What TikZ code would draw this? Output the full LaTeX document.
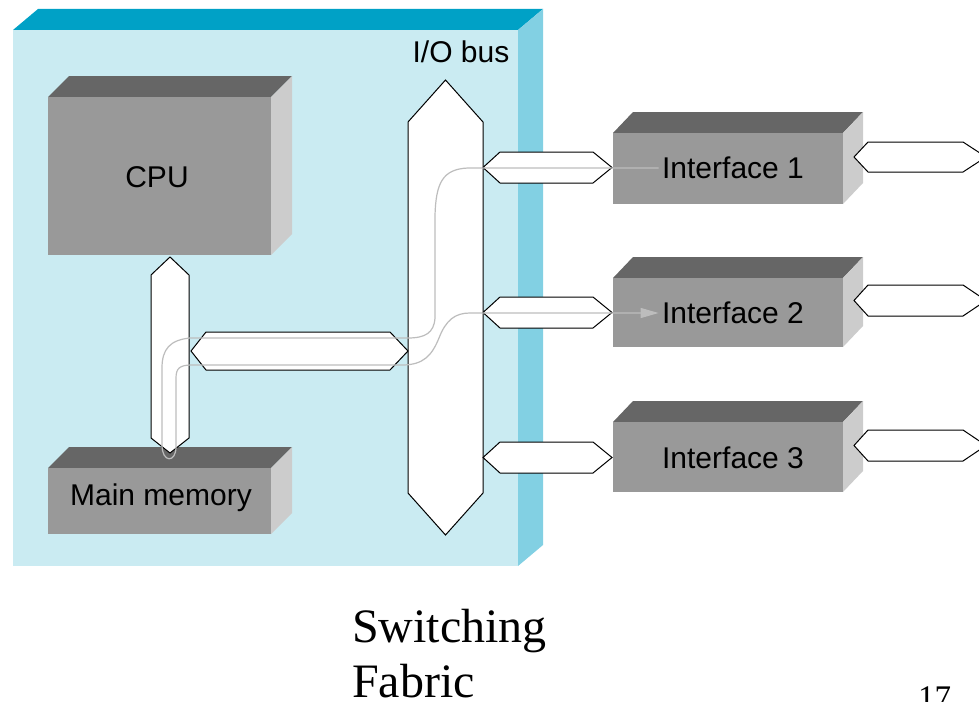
\documentclass[tikz,border=0pt]{standalone}
\usepackage{fontspec}
\setmainfont{Liberation Serif}
\newfontfamily\labelfont{Liberation Sans}
\usetikzlibrary{arrows.meta}

\definecolor{boardtop}{HTML}{00A1C6}
\definecolor{boardfront}{HTML}{CAEBF2}
\definecolor{boardside}{HTML}{82D0E3}
\definecolor{blocktop}{HTML}{666666}
\definecolor{blockfront}{HTML}{999999}
\definecolor{blockside}{HTML}{CCCCCC}
\definecolor{route}{HTML}{BDBDBD}

\tikzset{
  bus/.style={draw=black, fill=white, line width=1pt, line join=miter},
  lbl/.style={font=\labelfont\fontsize{30}{36}\selectfont, text=black},
  routeline/.style={draw=route, line width=1.2pt},
}

% extruded block: left x, front top y, right x, bottom y, depth x, depth y, top/front/side colours
\newcommand\slabbox[9]{%
  \fill[#7] (#1,#2) -- (#1+#5,#2-#6) -- (#3+#5,#2-#6) -- (#3,#2) -- cycle;
  \fill[#8] (#1,#2) rectangle (#3,#4);
  \fill[#9] (#3,#2) -- (#3+#5,#2-#6) -- (#3+#5,#4-#6) -- (#3,#4) -- cycle;
}
% vertical bus: left x, right x, top tip y, upper shoulder y, lower shoulder y, bottom tip y
\newcommand\vbus[6]{%
  \draw[bus] ({(#1+#2)/2},#3) -- (#2,#4) -- (#2,#5) -- ({(#1+#2)/2},#6) -- (#1,#5) -- (#1,#4) -- cycle;
}
% horizontal bus: left tip x, left shoulder x, right shoulder x, right tip x, top y, bottom y
\newcommand\hbus[6]{%
  \draw[bus] (#1,{(#5+#6)/2}) -- (#2,#5) -- (#3,#5) -- (#4,{(#5+#6)/2}) -- (#3,#6) -- (#2,#6) -- cycle;
}

\begin{document}
\begin{tikzpicture}[x=1pt,y=-1pt]
\useasboundingbox (0,0) rectangle (979,701);

% switching fabric board
\slabbox{13}{30}{518}{566}{25}{21}{boardtop}{boardfront}{boardside}

% CPU and main memory
\slabbox{48}{97}{271}{255}{21}{21}{blocktop}{blockfront}{blockside}
\slabbox{48}{468}{271}{534}{21}{21}{blocktop}{blockfront}{blockside}

% I/O bus and memory bus
\vbus{408}{483}{80}{122}{493}{535}
\vbus{151}{189}{257}{275}{438}{453}
\hbus{191}{206}{390}{408}{332}{370}

% links from the I/O bus to the interfaces
\hbus{483}{500}{593}{612}{152}{183}
\hbus{483}{500}{593}{612}{297}{328}
\hbus{483}{500}{593}{612}{442}{473}

% interfaces
\slabbox{613}{133}{843}{204}{20}{21}{blocktop}{blockfront}{blockside}
\slabbox{613}{278}{843}{347}{20}{21}{blocktop}{blockfront}{blockside}
\slabbox{613}{422}{843}{492}{20}{21}{blocktop}{blockfront}{blockside}

% outgoing links
\hbus{854}{868}{963}{986}{142}{172}
\hbus{854}{868}{963}{986}{285}{316}
\hbus{854}{868}{963}{986}{430}{461}

% labels
\node[lbl] (iobus) at (461,52) {I/O bus};
\node[lbl] (cpu) at (157,177) {CPU};
\node[lbl] (mem) at (161,498) {Main memory};
\node[lbl] (if1) at (733,168) {Interface 1};
\node[lbl] (if2) at (733,313) {Interface 2};
\node[lbl] (if3) at (733,458) {Interface 3};

% packet route from interface 1 through memory to interface 2
\draw[routeline, -{Triangle[length=18pt,width=10pt,fill=route]}]
  (if1.west) -- (468,168)
  .. controls (442,169) and (436,184) .. (435,215)
  -- (435,318)
  .. controls (434,333) and (425,338) .. (408,338)
  -- (190,338)
  .. controls (170,340) and (162,349) .. (162,368)
  -- (162,445)
  .. controls (162,463) and (176,463) .. (176,447)
  -- (176,378)
  .. controls (176,368) and (180,365) .. (192,365)
  -- (402,365)
  .. controls (424,365) and (432,355) .. (439,338)
  .. controls (446,320) and (455,313) .. (470,313)
  -- (if2.west);

% caption and page number
\node[anchor=base west, inner sep=0pt, font=\fontsize{48}{55}\selectfont] (cap1) at (352,642) {Switching};
\node[anchor=base west, inner sep=0pt, font=\fontsize{48}{55}\selectfont] (cap2) at (352,697) {Fabric};
\node[anchor=base west, inner sep=0pt, font=\fontsize{33}{40}\selectfont] (pageno) at (918,708) {17};
\end{tikzpicture}
\end{document}
